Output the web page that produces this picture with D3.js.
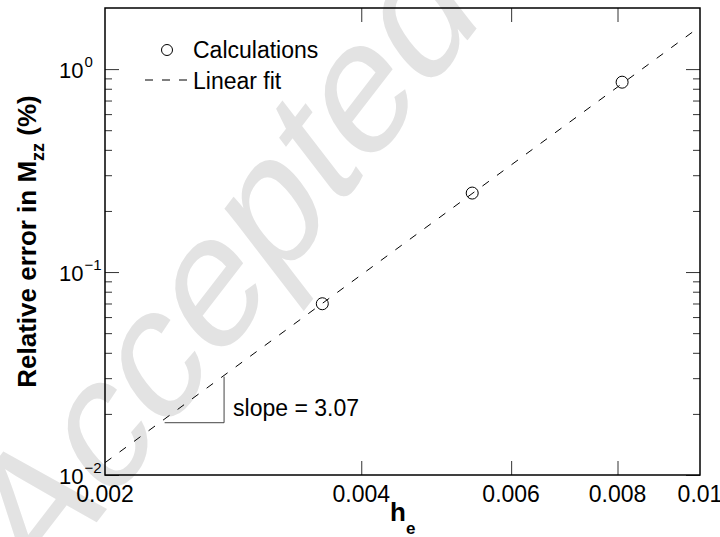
<!DOCTYPE html>
<html>
<head>
<meta charset="utf-8">
<script src="https://cdn.jsdelivr.net/npm/d3@7"></script>
<style>
  body { margin: 0; background: #fff; }
  svg { display: block; font-family: "Liberation Sans", Arial, sans-serif; }
  .axis path { display: none; }
  .axis line { stroke: #333; stroke-width: 1; }
</style>
</head>
<body>
<svg id="svg" width="720" height="537"></svg>
<script>
// data
var hVals = [0.0036, 0.0054, 0.0081];
var errVals = [0.0698, 0.245, 0.862];
var fitH = [0.002, 0.01];
var fitErr = [0.0115, 1.62];
var triH = [0.00235, 0.00276];
var triErr = [0.0181, 0.0305];
var xTicks = [0.002, 0.004, 0.006, 0.008, 0.01];
var xTickLabels = ["0.002", "0.004", "0.006", "0.008", "0.01"];
var yMajor = [0.01, 0.1, 1];
var yExp = ["\u22122", "\u22121", "0"];

var svg = d3.select("#svg");
var box = {left: 105, right: 700, top: 8, bottom: 475};

var x = d3.scaleLog().domain([0.002, 0.01]).range([box.left, box.right]);
var y = d3.scaleLog().domain([0.01, 2]).range([box.bottom, box.top]);

// watermark (stretched, as in the scan)
svg.append("g")
  .attr("transform", "translate(222,262) scale(1,1.3)")
  .append("text")
  .attr("transform", "rotate(-45)")
  .attr("text-anchor", "middle")
  .attr("dominant-baseline", "central")
  .attr("font-size", 152)
  .attr("fill", "#e3e3e3")
  .text("Accepted");

// minor y ticks
var yMinor = [];
[0.01, 0.1].forEach(function(d){
  for (var k = 2; k <= 9; k++) yMinor.push(d * k);
});

var xInner = xTicks.slice(1, -1);

svg.append("g").attr("class", "axis")
  .attr("transform", "translate(0," + box.bottom + ")")
  .call(d3.axisBottom(x).tickValues(xInner).tickSize(-14).tickFormat(""));
svg.append("g").attr("class", "axis")
  .attr("transform", "translate(0," + box.top + ")")
  .call(d3.axisTop(x).tickValues(xInner).tickSize(-14).tickFormat(""));

svg.append("g").attr("class", "axis")
  .attr("transform", "translate(" + box.left + ",0)")
  .call(d3.axisLeft(y).tickValues(yMajor).tickSize(-14).tickFormat(""));
svg.append("g").attr("class", "axis")
  .attr("transform", "translate(" + box.left + ",0)")
  .call(d3.axisLeft(y).tickValues(yMinor).tickSize(-7).tickFormat(""));
svg.append("g").attr("class", "axis")
  .attr("transform", "translate(" + box.right + ",0)")
  .call(d3.axisRight(y).tickValues(yMajor).tickSize(-14).tickFormat(""));
svg.append("g").attr("class", "axis")
  .attr("transform", "translate(" + box.right + ",0)")
  .call(d3.axisRight(y).tickValues(yMinor).tickSize(-7).tickFormat(""));

// frame
svg.append("rect")
  .attr("x", box.left).attr("y", box.top)
  .attr("width", box.right - box.left).attr("height", box.bottom - box.top)
  .attr("fill", "none").attr("stroke", "#000").attr("stroke-width", 1.5);

// x tick labels
svg.selectAll(".xlab")
  .data(xTicks)
  .enter().append("text")
  .attr("x", d => x(d))
  .attr("y", 502)
  .attr("text-anchor", "middle")
  .attr("font-size", 23)
  .text((d, i) => xTickLabels[i]);

// y tick labels with exponents
var ylab = svg.selectAll(".ylab")
  .data(yMajor)
  .enter().append("text")
  .attr("x", 59)
  .attr("y", d => y(d) + 9)
  .attr("font-size", 22);
ylab.append("tspan").text("10");
ylab.append("tspan").attr("dx", 1).attr("dy", -11).attr("font-size", 15).text((d, i) => yExp[i]);

// linear fit
var line = d3.line().x(d => x(d[0])).y(d => y(d[1]));
svg.append("path")
  .attr("d", line(d3.zip(fitH, fitErr)))
  .attr("fill", "none").attr("stroke", "#000").attr("stroke-width", 1)
  .attr("stroke-dasharray", "8,10");

// calculations
svg.selectAll(".pt")
  .data(d3.zip(hVals, errVals))
  .enter().append("circle")
  .attr("cx", d => x(d[0]))
  .attr("cy", d => y(d[1]))
  .attr("r", 6)
  .attr("fill", "none").attr("stroke", "#000").attr("stroke-width", 1);

// slope triangle
svg.append("path")
  .attr("d", "M" + x(triH[0]) + "," + y(triErr[0]) + "H" + x(triH[1]) + "V" + y(triErr[1]))
  .attr("fill", "none").attr("stroke", "#444").attr("stroke-width", 1);
svg.append("text")
  .attr("x", x(triH[1]) + 9)
  .attr("y", 416)
  .attr("font-size", 23)
  .text("slope = 3.07");

// legend
svg.append("circle").attr("cx", 167).attr("cy", 50).attr("r", 5.5)
  .attr("fill", "none").attr("stroke", "#000").attr("stroke-width", 1);
svg.append("text").attr("x", 193).attr("y", 58).attr("font-size", 23).text("Calculations");
svg.append("line").attr("x1", 145).attr("x2", 187).attr("y1", 80).attr("y2", 80)
  .attr("stroke", "#000").attr("stroke-width", 1).attr("stroke-dasharray", "8,9");
svg.append("text").attr("x", 193).attr("y", 89).attr("font-size", 23).text("Linear fit");

// axis titles
var xt = svg.append("text").attr("x", 390).attr("y", 521)
  .attr("font-size", 26).attr("font-weight", "bold");
xt.append("tspan").text("h");
xt.append("tspan").attr("dy", 13).attr("font-size", 17).text("e");

var yt = svg.append("text")
  .attr("transform", "translate(36," + ((box.top + box.bottom) / 2) + ") rotate(-90)")
  .attr("text-anchor", "middle")
  .attr("font-size", 26).attr("font-weight", "bold");
yt.append("tspan").text("Relative error in M");
yt.append("tspan").attr("dy", 8).attr("font-size", 18).text("zz");
yt.append("tspan").attr("dy", -8).text(" (%)");
</script>
</body>
</html>
